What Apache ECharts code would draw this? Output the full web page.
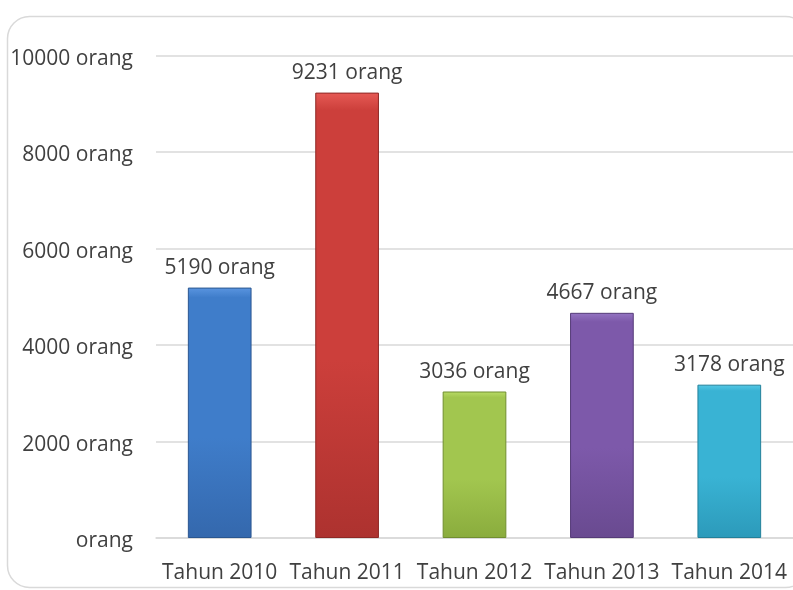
<!DOCTYPE html>
<html>
<head>
<meta charset="utf-8">
<script src="https://cdn.jsdelivr.net/npm/echarts@6/dist/echarts.min.js"></script>
<style>
  html, body { margin: 0; padding: 0; background: #fff; }
  #chart { width: 793px; height: 590px; }
</style>
</head>
<body>
<div id="chart"></div>
<script type="text/javascript">
// data
var categories = ["Tahun 2010", "Tahun 2011", "Tahun 2012", "Tahun 2013", "Tahun 2014"];
var values = [5190, 9231, 3036, 4667, 3178];
// colours per bar: [top, body, bottom, edge]
var barColors = [
  ["#5a95e0", "#3f7dca", "#3468ad", "#2a5690"],
  ["#e65a55", "#cc3f3b", "#ad322f", "#8e2825"],
  ["#b9dc66", "#a2c64f", "#8aac3d", "#718e30"],
  ["#9474c2", "#7d59aa", "#694a90", "#553b78"],
  ["#55c9e6", "#39b3d4", "#2c9aba", "#22809a"]
];

var chart = echarts.init(document.getElementById("chart"));
var fontFam = "'Open Sans', sans-serif";

var option = {
  animation: false,
  backgroundColor: "#fff",
  graphic: [
    {
      type: "rect",
      shape: { x: 7.5, y: 16.5, width: 800, height: 571, r: 22 },
      style: { fill: "none", stroke: "#d9d9d9", lineWidth: 1.5 },
      silent: true
    }
  ],
  grid: {
    left: 156,
    right: -3,
    top: 55.5,
    bottom: 52
  },
  xAxis: {
    type: "category",
    data: categories,
    axisTick: { show: false },
    axisLine: { lineStyle: { color: "#d9d9d9", width: 1.5 } },
    axisLabel: {
      interval: 0,
      color: "#404040",
      fontFamily: fontFam,
      fontSize: 21,
      margin: 25
    }
  },
  yAxis: {
    type: "value",
    min: 0,
    max: 10000,
    interval: 2000,
    axisLine: { show: false },
    axisTick: { show: false },
    splitLine: { lineStyle: { color: "#d9d9d9", width: 1.5 } },
    axisLabel: {
      color: "#404040",
      fontFamily: fontFam,
      fontSize: 21,
      margin: 23,
      formatter: function (v) {
        return "{a|" + (v === 0 ? "orang" : v + " orang") + "}";
      },
      rich: {
        a: {
          color: "#404040",
          fontFamily: fontFam,
          fontSize: 21,
          padding: [7, 0, 0, 0]
        }
      }
    }
  },
  series: [
    {
      type: "bar",
      barWidth: "50%",
      data: values.map(function (v, i) {
        var c = barColors[i];
        return {
          value: v,
          itemStyle: {
            color: new echarts.graphic.LinearGradient(0, 0, 0, 1, [
              { offset: 0, color: c[0] },
              { offset: 0.04, color: c[1] },
              { offset: 0.6, color: c[1] },
              { offset: 1, color: c[2] }
            ]),
            borderColor: c[3],
            borderWidth: 1
          }
        };
      }),
      label: {
        show: true,
        position: "top",
        distance: 9,
        color: "#404040",
        fontFamily: fontFam,
        fontSize: 21,
        formatter: function (p) {
          return p.value + " orang";
        }
      }
    }
  ]
};

chart.setOption(option);
</script>
</body>
</html>
